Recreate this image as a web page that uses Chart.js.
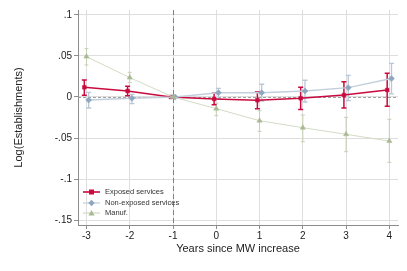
<!DOCTYPE html>
<html><head><meta charset="utf-8">
<script src="https://cdn.jsdelivr.net/npm/chart.js@4/dist/chart.umd.min.js"></script>
<style>
html,body{margin:0;padding:0;background:#fff;}
#wrap{position:relative;width:407px;height:271px;}
#legend{position:absolute;left:83px;top:187px;font-family:"Liberation Sans",Arial,sans-serif;font-size:7.5px;color:#333;line-height:10.5px;}
#legend div{display:flex;align-items:center;height:10.5px;}
#legend svg{margin-right:5px;}
</style></head>
<body><div id="wrap"><canvas id="c" width="407" height="271"></canvas>
<div id="legend"></div></div>
<script>
const years = [-3,-2,-1,0,1,2,3,4];
const exposed    = [0.0118, 0.0073, 0, -0.0024, -0.0040, -0.0016, 0.0024, 0.0085];
const exposedLo  = [0.0020, 0.0016, 0, -0.0094, -0.0142, -0.0154, -0.0134, -0.0114];
const exposedHi  = [0.0207, 0.0130, 0, 0.0045, 0.0060, 0.0118, 0.0187, 0.0289];
const nonExposed   = [-0.0037, -0.0016, 0, 0.0053, 0.0053, 0.0073, 0.0114, 0.0224];
const nonExposedLo = [-0.0134, -0.0081, 0, -0.0016, -0.0049, -0.0061, -0.0045, 0.0037];
const nonExposedHi = [0.0057, 0.0033, 0, 0.0106, 0.0155, 0.0204, 0.0264, 0.0410];
const manuf   = [0.0492, 0.0236, 0, -0.0142, -0.0289, -0.0374, -0.0455, -0.0537];
const manufLo = [0.0390, 0.0175, 0, -0.0228, -0.0419, -0.0545, -0.0667, -0.0796];
const manufHi = [0.0589, 0.0301, 0, -0.0077, -0.0167, -0.0220, -0.0248, -0.0272];
const seriesNames = ["Exposed services", "Non-exposed services", "Manuf."];
const xTicks = [-3,-2,-1,0,1,2,3,4];
const yTicks = [-0.15,-0.1,-0.05,0,0.05,0.1];
const xOffsets = [-0.05, 0.05, 0];

const styles = [
  {color:'#c90a3e', ci:'#c90a3e', lw:1.6, ciw:1.5, pt:'rect', r:2.6, cap:2.5},
  {color:'#8fa6c0', ci:'#b9c7d7', lw:1.5, ciw:1.3, pt:'rectRot', r:3, cap:2.5},
  {color:'#a9b992', ci:'#c6d0b4', lw:1, ciw:1, pt:'triangle', r:3, cap:2}
];
const vals = [exposed, nonExposed, manuf];
const ciLo = [exposedLo, nonExposedLo, manufLo];
const ciHi = [exposedHi, nonExposedHi, manufHi];
const lineColors = ['#c90a3e', '#c3cfdc', '#d3dbc6'];

const datasets = vals.map((v,i)=>({
  label: seriesNames[i],
  data: years.map((x,j)=>({x: x + xOffsets[i], y: v[j]})),
  showLine: true,
  borderColor: lineColors[i],
  borderWidth: styles[i].lw,
  backgroundColor: styles[i].color,
  pointBackgroundColor: styles[i].color,
  pointBorderColor: styles[i].color,
  pointStyle: styles[i].pt,
  pointRadius: styles[i].r,
  pointBorderWidth: 0.5,
  order: 3 - i
}));

const refAndCI = {
  id: 'refAndCI',
  beforeDatasetsDraw(chart) {
    const {ctx, chartArea: a, scales: {x, y}} = chart;
    ctx.save();
    // horizontal zero line
    ctx.strokeStyle = '#a0a0a0'; ctx.lineWidth = 1; ctx.setLineDash([3,2]);
    const y0 = Math.round(y.getPixelForValue(0)) + 0.5;
    ctx.beginPath(); ctx.moveTo(a.left, y0); ctx.lineTo(a.right, y0); ctx.stroke();
    // vertical line at -1
    ctx.strokeStyle = '#808080'; ctx.setLineDash([5,3]);
    const xv = Math.round(x.getPixelForValue(-1)) + 0.5;
    ctx.beginPath(); ctx.moveTo(xv, a.top); ctx.lineTo(xv, a.bottom); ctx.stroke();
    ctx.setLineDash([]);
    // CIs
    [2,1,0].forEach(i=>{
      const s = styles[i];
      ctx.strokeStyle = s.ci; ctx.lineWidth = s.ciw;
      years.forEach((yr,j)=>{
        if (ciLo[i][j] === ciHi[i][j]) return;
        const px = x.getPixelForValue(yr + xOffsets[i]);
        const pl = y.getPixelForValue(ciLo[i][j]);
        const ph = y.getPixelForValue(ciHi[i][j]);
        ctx.beginPath();
        ctx.moveTo(px, pl); ctx.lineTo(px, ph);
        ctx.moveTo(px - s.cap, pl); ctx.lineTo(px + s.cap, pl);
        ctx.moveTo(px - s.cap, ph); ctx.lineTo(px + s.cap, ph);
        ctx.stroke();
      });
    });
    ctx.restore();
  }
};

const fmtY = v => v === 0 ? '0' : (v < 0 ? '-' : '') + String(Math.abs(Math.round(v*100)/100)).replace(/^0/, '');
const font = "'Liberation Sans', Arial, sans-serif";

new Chart(document.getElementById('c'), {
  type: 'scatter',
  data: { datasets },
  plugins: [refAndCI],
  options: {
    responsive: false, animation: false, devicePixelRatio: 1,
    layout: { padding: { left: 0, right: 9, top: 10, bottom: 0 } },
    plugins: { legend: { display: false }, tooltip: { enabled: false } },
    scales: {
      x: {
        type: 'linear', min: -3.196, max: 4.2,
        afterBuildTicks: s => { s.ticks = xTicks.map(v => ({value: v})); },
        afterFit: s => { s.height = 46; },
        ticks: { color: '#222', font: { family: font, size: 10 }, padding: 1, callback: v => String(v) },
        grid: { color: '#dedede', borderDash: [1,2], tickLength: 4, tickColor: '#8c8c8c', tickBorderDash: [] },
        border: { color: '#8c8c8c', width: 1 },
        title: { display: true, text: 'Years since MW increase', color: '#222', font: { family: font, size: 11 }, padding: { top: 0, bottom: 15 } }
      },
      y: {
        type: 'linear', min: -0.156, max: 0.106,
        afterBuildTicks: s => { s.ticks = yTicks.map(v => ({value: v})); },
        afterFit: s => { s.width = 78; },
        ticks: { color: '#222', font: { family: font, size: 10 }, padding: 2, callback: v => fmtY(v) },
        grid: { color: '#dedede', borderDash: [1,2], tickLength: 4, tickColor: '#8c8c8c', tickBorderDash: [] },
        border: { color: '#8c8c8c', width: 1 },
        title: { display: true, text: 'Log(Establishments)', color: '#222', font: { family: font, size: 11 }, padding: { top: 12, bottom: 0 } }
      }
    }
  }
});

// legend
const shapes = [
  c => `<rect x="6" y="1.5" width="5" height="5" fill="${c}"/>`,
  c => `<polygon points="8.5,0.8 11.7,4 8.5,7.2 5.3,4" fill="${c}"/>`,
  c => `<polygon points="8.5,1 11.5,6.5 5.5,6.5" fill="${c}"/>`
];
const leg = document.getElementById('legend');
seriesNames.forEach((n,i)=>{
  const d = document.createElement('div');
  d.innerHTML = `<svg width="17" height="8"><line x1="0" y1="4" x2="17" y2="4" stroke="${i===0?styles[i].color:lineColors[i]}" stroke-width="${i===0?1.6:1.3}"/>${shapes[i](styles[i].color)}</svg><span>${n}</span>`;
  leg.appendChild(d);
});
</script></body></html>
